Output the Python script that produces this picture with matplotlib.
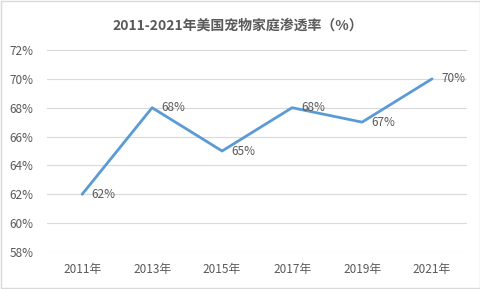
import matplotlib.pyplot as plt

plt.rcParams['font.family'] = ['Noto Sans CJK SC', 'DejaVu Sans']

# 数据
years = ['2011年', '2013年', '2015年', '2017年', '2019年', '2021年']
rate = [62, 68, 65, 68, 67, 70]
yticks = [58, 60, 62, 64, 66, 68, 70, 72]

text_color = '#595959'
line_color = '#5B9BD5'

fig = plt.figure(figsize=(4.81, 2.89), dpi=100)
ax = fig.add_axes([0.098, 0.128, 0.873, 0.699])

x = list(range(len(years)))
ax.plot(x, rate, color=line_color, linewidth=2.0, solid_capstyle='round', zorder=3)
for xi, v in zip(x, rate):
    ax.annotate(f'{v}%', (xi, v), xytext=(7, 0), textcoords='offset points',
                ha='left', va='center', fontsize=8.5, color=text_color)

ax.set_xlim(-0.5, len(years) - 0.5)
ax.set_ylim(58, 72)
ax.set_yticks(yticks)
ax.set_yticklabels([f'{t}%' for t in yticks])
ax.set_xticks(x)
ax.set_xticklabels(years)
ax.tick_params(length=0, labelsize=8.5, labelcolor=text_color, pad=8)
ax.tick_params(axis='y', pad=10)
ax.grid(axis='y', color='#D9D9D9', linewidth=0.8)
ax.set_axisbelow(True)
for s in ax.spines.values():
    s.set_visible(False)

fig.text(0.495, 0.913, '2011-2021年美国宠物家庭渗透率（%）', ha='center', va='center',
         fontsize=10, fontweight='bold', color=text_color)

# 外框
fig.patches.append(plt.Rectangle((0.002, 0.003), 0.996, 0.994, transform=fig.transFigure,
                                 fill=False, edgecolor='#D9D9D9', linewidth=1.0))

fig.savefig('out.png', dpi=100)
